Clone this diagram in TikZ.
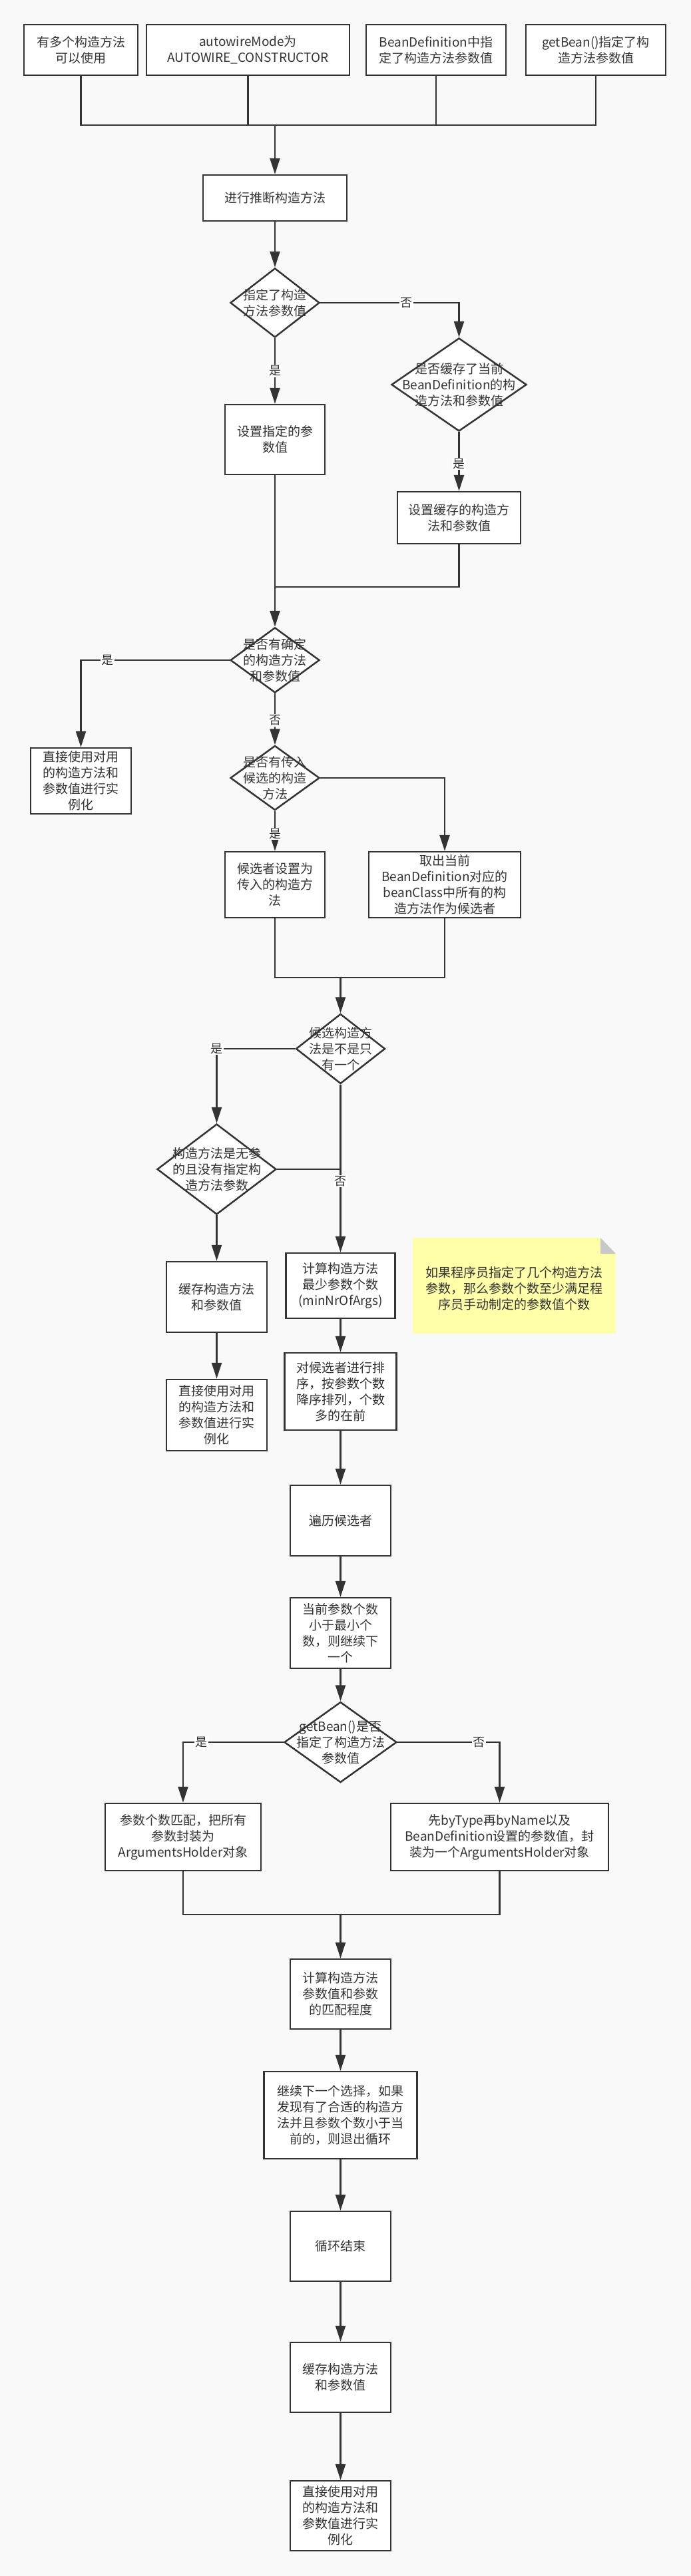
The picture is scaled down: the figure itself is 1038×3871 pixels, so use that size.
\documentclass[tikz,border=0pt]{standalone}
\usepackage{fontspec}
\setmainfont{Noto Sans CJK SC}
\usetikzlibrary{shapes.geometric,arrows.meta}
\definecolor{bg}{HTML}{F9F9F9}
\definecolor{lc}{HTML}{333333}
\definecolor{txt}{HTML}{333333}
\definecolor{notey}{HTML}{FFFFAA}
\definecolor{foldc}{HTML}{C8C8C8}
\begin{document}
\begin{tikzpicture}[x=1pt,y=-1pt,
 box/.style={draw=lc,line width=2.5pt,fill=white,text=txt,align=center,inner sep=0pt,font=\fontsize{19}{24}\selectfont},
 dia/.style={diamond,draw=lc,line width=2.5pt,fill=white,inner sep=0pt},
 dtext/.style={text=txt,align=center,font=\fontsize{19}{24}\selectfont,inner sep=0pt},
 conn/.style={draw=lc,line width=2.5pt},
 arr/.style={conn,-{Triangle[length=24pt,width=15pt]}},
 lab/.style={fill=white,text=txt,inner sep=1.5pt,font=\fontsize{18}{20}\selectfont},
]
\fill[bg] (0,0) rectangle (1038,3871);
\useasboundingbox (0,0) rectangle (1038,3871);

% top row
\node[box,minimum width=171pt,minimum height=76pt] (b1) at (121.5,75) {有多个构造方法\\可以使用};
\node[box,minimum width=305pt,minimum height=76pt] (b2) at (372.5,75) {autowireMode为\\AUTOWIRE\_CONSTRUCTOR};
\node[box,minimum width=210pt,minimum height=76pt] (b3) at (655,75) {BeanDefinition中指\\定了构造方法参数值};
\node[box,minimum width=210pt,minimum height=76pt] (b4) at (895,75) {getBean()指定了构\\造方法参数值};
\coordinate (jt) at (413,188);

\node[box,minimum width=216pt,minimum height=69pt] (b5) at (413,297.5) {进行推断构造方法};

\node[dia,minimum width=134pt,minimum height=104pt] (d1) at (413,455) {};
\node[dtext] (d1t) at (d1) {指定了构造\\方法参数值};

\node[box,minimum width=150pt,minimum height=105pt] (b6) at (413,660.5) {设置指定的参\\数值};

\node[dia,minimum width=203pt,minimum height=140pt] (d2) at (689.5,578) {};
\node[dtext] (d2t) at (d2) {是否缓存了当前\\BeanDefinition的构\\造方法和参数值};

\node[box,minimum width=185pt,minimum height=78pt] (b7) at (689.5,778) {设置缓存的构造方\\法和参数值};
\coordinate (m1) at (413,882);

\node[dia,minimum width=134pt,minimum height=98pt] (d3) at (413,992) {};
\node[dtext] (d3t) at (d3) {是否有确定\\的构造方法\\和参数值};

\node[box,minimum width=151pt,minimum height=99pt] (b8) at (121.5,1173.5) {直接使用对用\\的构造方法和\\参数值进行实\\例化};

\node[dia,minimum width=134pt,minimum height=97pt] (d4) at (413,1169) {};
\node[dtext] (d4t) at (d4) {是否有传入\\候选的构造\\方法};

\node[box,minimum width=150pt,minimum height=99pt] (b9) at (413,1329.5) {候选者设置为\\传入的构造方\\法};
\node[box,minimum width=228pt,minimum height=99pt] (b10) at (668,1329.5) {取出当前\\BeanDefinition对应的\\beanClass中所有的构\\造方法作为候选者};
\coordinate (m2) at (511.5,1469);

\node[dia,minimum width=134pt,minimum height=105pt] (d5) at (511.5,1576) {};
\node[dtext] (d5t) at (d5) {候选构造方\\法是不是只\\有一个};

\node[dia,minimum width=179pt,minimum height=136pt] (d6) at (325.5,1757) {};
\node[dtext] (d6t) at (d6) {构造方法是无参\\的且没有指定构\\造方法参数};

\node[box,minimum width=151pt,minimum height=106pt] (b11) at (325.5,1949) {缓存构造方法\\和参数值};
\node[box,minimum width=151pt,minimum height=107pt] (b12) at (325.5,2126.5) {直接使用对用\\的构造方法和\\参数值进行实\\例化};

\node[box,minimum width=164pt,minimum height=98pt] (b13) at (511.5,1932) {计算构造方法\\最少参数个数\\(minNrOfArgs)};

% note
\fill[notey] (620,1860) -- (902,1860) -- (925,1884) -- (925,2004) -- (620,2004) -- cycle;
\fill[foldc] (902,1860) -- (925,1884) -- (902,1884) -- cycle;
\node[dtext] (note) at (772.5,1936) {如果程序员指定了几个构造方法\\参数，那么参数个数至少满足程\\序员手动制定的参数值个数};

\node[box,minimum width=168pt,minimum height=116pt] (b14) at (511.5,2091) {对候选者进行排\\序，按参数个数\\降序排列，个数\\多的在前};
\node[box,minimum width=151pt,minimum height=106pt] (b15) at (511.5,2285) {遍历候选者};
\node[box,minimum width=151pt,minimum height=106pt] (b16) at (511.5,2454) {当前参数个数\\小于最小个\\数，则继续下\\一个};

\node[dia,minimum width=169pt,minimum height=121pt] (d7) at (511.5,2618) {};
\node[dtext] (d7t) at (d7) {getBean()是否\\指定了构造方法\\参数值};

\node[box,minimum width=234pt,minimum height=101pt] (b17) at (275,2760.5) {参数个数匹配，把所有\\参数封装为\\ArgumentsHolder对象};
\node[box,minimum width=327pt,minimum height=101pt] (b18) at (750.5,2760.5) {先byType再byName以及\\BeanDefinition设置的参数值，封\\装为一个ArgumentsHolder对象};
\coordinate (m3) at (511.5,2877);

\node[box,minimum width=151pt,minimum height=105pt] (b19) at (511.5,2996.5) {计算构造方法\\参数值和参数\\的匹配程度};
\node[box,minimum width=230pt,minimum height=131pt] (b20) at (511.5,3178.5) {继续下一个选择，如果\\发现有了合适的构造方\\法并且参数个数小于当\\前的，则退出循环};
\node[box,minimum width=151pt,minimum height=105pt] (b21) at (511.5,3375.5) {循环结束};
\node[box,minimum width=151pt,minimum height=105pt] (b22) at (511.5,3572.5) {缓存构造方法\\和参数值};
\node[box,minimum width=151pt,minimum height=105pt] (b23) at (511.5,3780.5) {直接使用对用\\的构造方法和\\参数值进行实\\例化};

% connectors
\draw[conn] (b1.south) |- (jt);
\draw[conn] (b4.south) |- (jt);
\draw[conn] (b2.south) -- (b2.south |- jt);
\draw[conn] (b3.south) -- (b3.south |- jt);
\draw[arr] (jt) -- (b5.north);
\draw[arr] (b5.south) -- (d1.north);
\draw[arr] (d1.east) -| node[lab,pos=0.31] {否} (d2.north);
\draw[arr] (d1.south) -- node[lab,pos=0.5] {是} (b6.north);
\draw[arr] (d2.south) -- node[lab,pos=0.54] {是} (b7.north);
\draw[conn] (b6.south) -- (m1);
\draw[conn] (b7.south) |- (m1);
\draw[arr] (m1) -- (d3.north);
\draw[arr] (d3.west) -| node[lab,pos=0.41] {是} (b8.north);
\draw[arr] (d3.south) -- node[lab,pos=0.52] {否} (d4.north);
\draw[arr] (d4.south) -- node[lab,pos=0.57] {是} (b9.north);
\draw[arr] (d4.east) -| (b10.north);
\draw[conn] (b9.south) |- (m2);
\draw[conn] (b10.south) |- (m2);
\draw[arr] (m2) -- (d5.north);
\draw[arr] (d5.west) -| node[lab,pos=0.5] {是} (d6.north);
\draw[arr] (d5.south) -- node[lab,pos=0.576] {否} (b13.north);
\draw[conn] (d6.east) -- (d6.east -| d5.south);
\draw[arr] (d6.south) -- (b11.north);
\draw[arr] (b11.south) -- (b12.north);
\draw[arr] (b13.south) -- (b14.north);
\draw[arr] (b14.south) -- (b15.north);
\draw[arr] (b15.south) -- (b16.north);
\draw[arr] (b16.south) -- (d7.north);
\draw[arr] (d7.west) -| node[lab,pos=0.41] {是} (b17.north);
\draw[arr] (d7.east) -| node[lab,pos=0.40] {否} (b18.north);
\draw[conn] (b17.south) |- (m3);
\draw[conn] (b18.south) |- (m3);
\draw[arr] (m3) -- (b19.north);
\draw[arr] (b19.south) -- (b20.north);
\draw[arr] (b20.south) -- (b21.north);
\draw[arr] (b21.south) -- (b22.north);
\draw[arr] (b22.south) -- (b23.north);
\end{tikzpicture}
\end{document}
